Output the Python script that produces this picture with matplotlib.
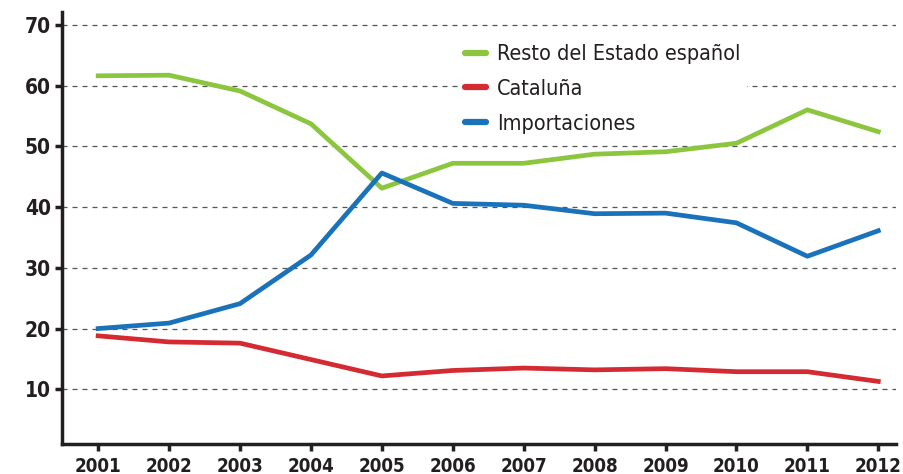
import matplotlib
matplotlib.use("Agg")
import matplotlib.pyplot as plt

years = [2001, 2002, 2003, 2004, 2005, 2006, 2007, 2008, 2009, 2010, 2011, 2012]
resto = [61.6, 61.7, 59.1, 53.7, 43.1, 47.2, 47.2, 48.7, 49.1, 50.5, 56.0, 52.4]
cataluna = [18.8, 17.8, 17.6, 14.9, 12.2, 13.1, 13.5, 13.2, 13.4, 12.9, 12.9, 11.3]
importaciones = [20.0, 20.9, 24.1, 32.1, 45.6, 40.6, 40.3, 38.9, 39.0, 37.4, 31.9, 36.1]
yticks = [10, 20, 30, 40, 50, 60, 70]
labels = ["Resto del Estado español", "Cataluña", "Importaciones"]

plt.rcParams['font.family'] = ["DejaVu Sans"]
plt.rcParams['font.stretch'] = "condensed"

fig = plt.figure(figsize=(9.04, 4.74), dpi=100)
ax = fig.add_axes([62/904, 30/474, 834/904, 432/474])

l1, = ax.plot(years, resto, color="#8cc63f", lw=3.4, label=labels[0], zorder=3)
l2, = ax.plot(years, cataluna, color="#d42a32", lw=3.4, label=labels[1], zorder=3)
l3, = ax.plot(years, importaciones, color="#1a72bb", lw=3.4, label=labels[2], zorder=4)

ax.set_xlim(2000.49, 2012.25)
ax.set_ylim(1, 72.1)
ax.set_yticks(yticks)
ax.set_xticks(years)
ax.set_xticklabels([str(y) for y in years])
for t in ax.get_yticklabels():
    t.set_fontweight("bold")
    t.set_fontsize(15)
    t.set_fontstretch("condensed")
    t.set_color("#231f20")
for t in ax.get_xticklabels():
    t.set_fontweight("bold")
    t.set_fontsize(13.5)
    t.set_fontstretch("condensed")
    t.set_color("#231f20")
ax.tick_params(axis="both", direction="out", width=2.5, length=5, color="#231f20", pad=3)
ax.tick_params(axis="x", pad=4)
ax.grid(axis="y", linestyle=(0, (4, 4)), color="#555555", lw=0.9)
ax.set_axisbelow(True)
for s in ["top", "right"]:
    ax.spines[s].set_visible(False)
for s in ["left", "bottom"]:
    ax.spines[s].set_linewidth(2.5)
    ax.spines[s].set_color("#231f20")

leg = ax.legend(handles=[l1, l2, l3], loc="upper left", bbox_to_anchor=(0.462, 0.965), frameon=True,
                prop={"size": 15.5, "stretch": "condensed"},
                handlelength=1.0, handletextpad=0.5, labelspacing=0.68, borderpad=0.3)
leg.get_frame().set_facecolor("white")
leg.get_frame().set_edgecolor("none")
leg.get_frame().set_alpha(1)
leg.set_zorder(2.5)
for h in leg.legend_handles:
    h.set_linewidth(4.5)
    h.set_solid_capstyle("round")
for t in leg.get_texts():
    t.set_color("#231f20")

fig.savefig("out.png", dpi=100)
